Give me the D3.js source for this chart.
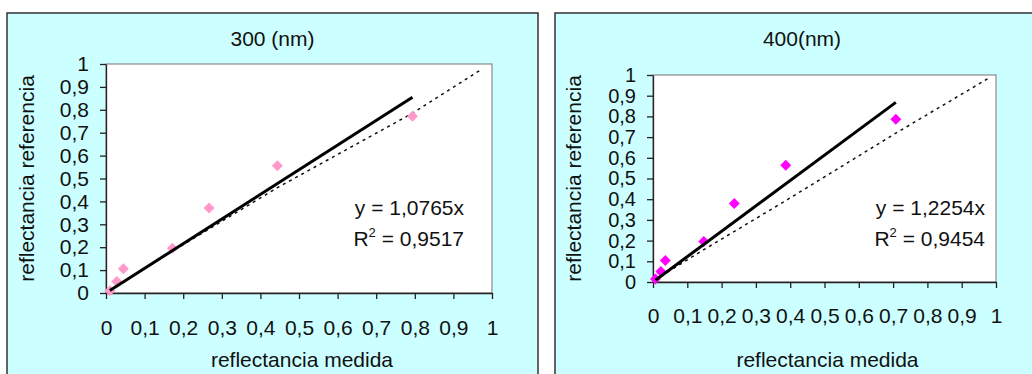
<!DOCTYPE html>
<html lang="es">
<head>
    <meta charset="UTF-8">
    <script src="https://d3js.org/d3.v7.min.js"></script>
    <style>
        body {margin: 0; background-color: #ffffff;}
        svg {display: block; font-family: "Liberation Sans", Arial, sans-serif;}
    </style>
</head>
<body>
<svg class="chart" width="1032" height="374"></svg>
<script type="text/javascript">
    // tick values shared by both charts (decimal comma labels)
    let tick_values = [0, 0.1, 0.2, 0.3, 0.4, 0.5, 0.6, 0.7, 0.8, 0.9, 1];
    let tick_labels = ['0', '0,1', '0,2', '0,3', '0,4', '0,5', '0,6', '0,7', '0,8', '0,9', '1'];

    // 300 nm
    let medida_300 = [0.010, 0.028, 0.045, 0.172, 0.267, 0.444, 0.794];
    let referencia_300 = [0.010, 0.050, 0.106, 0.195, 0.371, 0.556, 0.772];
    let slope_300 = 1.0765;
    let eq_300 = 'y = 1,0765x';
    let r2_300 = '0,9517';
    let ref_x_300 = [0.010, 0.150, 0.444, 0.794, 0.973];
    let ref_y_300 = [0.010, 0.160, 0.460, 0.785, 0.977];

    // 400 nm
    let medida_400 = [0.007, 0.023, 0.036, 0.148, 0.237, 0.387, 0.708];
    let referencia_400 = [0.014, 0.051, 0.104, 0.196, 0.379, 0.564, 0.786];
    let slope_400 = 1.2254;
    let eq_400 = 'y = 1,2254x';
    let r2_400 = '0,9454';
    let ref_x_400 = [0.007, 0.148, 0.383, 0.708, 0.983];
    let ref_y_400 = [0.012, 0.156, 0.389, 0.719, 0.989];

    let svg = d3.select('.chart');

    function drawChart(opts) {
        let g = svg.append('g');

        // outer chart frame
        g.append('rect')
            .attr('x', opts.panel[0]).attr('y', opts.panel[1])
            .attr('width', opts.panel[2]).attr('height', opts.panel[3])
            .attr('fill', '#ccffff')
            .attr('stroke', '#333333')
            .attr('stroke-width', 1.5);

        let x = d3.scaleLinear().domain([0, 1]).range([opts.left, opts.right]);
        let y = d3.scaleLinear().domain([0, 1]).range([opts.bottom, opts.top]);

        g.append('rect')
            .attr('x', opts.left).attr('y', opts.top)
            .attr('width', opts.right - opts.left).attr('height', opts.bottom - opts.top)
            .attr('fill', '#ffffff')
            .attr('stroke', '#8a8a8a')
            .attr('stroke-width', 1.2);

        let fmt = function (d) { return tick_labels[tick_values.indexOf(d)]; };

        let xAxis = g.append('g')
            .attr('transform', 'translate(0,' + opts.bottom + ')')
            .call(d3.axisBottom(x).tickValues(tick_values).tickFormat(fmt)
                .tickSize(6).tickSizeOuter(0).tickPadding(opts.xPad));
        let yAxis = g.append('g')
            .attr('transform', 'translate(' + opts.left + ',0)')
            .call(d3.axisLeft(y).tickValues(tick_values).tickFormat(fmt)
                .tickSize(6).tickSizeOuter(0).tickPadding(11));

        [[xAxis, 21], [yAxis, opts.yFont]].forEach(([a, fs]) => {
            a.select('.domain').attr('stroke', '#222').attr('stroke-width', 1.3);
            a.selectAll('.tick line').attr('stroke', '#222').attr('stroke-width', 1.3);
            a.selectAll('.tick text')
                .attr('fill', '#111')
                .style('font-size', fs + 'px')
                .style('font-family', '"Liberation Sans", Arial, sans-serif');
        });

        // reference line (dotted)
        let line = d3.line().x(d => x(d[0])).y(d => y(d[1]));
        g.append('path')
            .datum(d3.zip(opts.refX, opts.refY))
            .attr('d', line)
            .attr('fill', 'none')
            .attr('stroke', '#111')
            .attr('stroke-width', 1.5)
            .attr('stroke-dasharray', '3,4');

        // points
        let diamond = d3.symbol(d3.symbolSquare, 60);
        g.selectAll('path.pt').data(d3.zip(opts.mx, opts.my)).enter().append('path')
            .attr('class', 'pt')
            .attr('d', diamond)
            .attr('transform', d => 'translate(' + x(d[0]) + ',' + y(d[1]) + ') rotate(45)')
            .attr('fill', opts.color);

        // linear trendline through origin
        let x_lo = d3.min(opts.mx), x_hi = d3.max(opts.mx);
        g.append('line')
            .attr('x1', x(x_lo)).attr('y1', y(opts.slope * x_lo))
            .attr('x2', x(x_hi)).attr('y2', y(opts.slope * x_hi))
            .attr('stroke', '#000')
            .attr('stroke-width', 3);

        // title
        g.append('text')
            .attr('x', opts.panel[0] + opts.panel[2] / 2)
            .attr('y', 46)
            .attr('text-anchor', 'middle')
            .style('font-size', '21px')
            .attr('fill', '#111')
            .text(opts.title);

        // axis titles
        g.append('text')
            .attr('x', (opts.left + opts.right) / 2 + 3)
            .attr('y', 367)
            .attr('text-anchor', 'middle')
            .style('font-size', '21px')
            .attr('fill', '#111')
            .text('reflectancia medida');
        g.append('text')
            .attr('transform', 'translate(' + opts.yTitleX + ',' + (opts.top + opts.bottom) / 2 + ') rotate(-90)')
            .attr('text-anchor', 'middle')
            .style('font-size', '21px')
            .attr('fill', '#111')
            .text('reflectancia referencia');

        // equation
        g.append('text')
            .attr('x', opts.eqX).attr('y', 215)
            .attr('text-anchor', 'end')
            .style('font-size', '21px')
            .attr('fill', '#111')
            .text(opts.eq);
        let r2 = g.append('text')
            .attr('x', opts.eqX).attr('y', 246)
            .attr('text-anchor', 'end')
            .style('font-size', '21px')
            .attr('fill', '#111');
        r2.append('tspan').text('R');
        r2.append('tspan').attr('dy', -9).style('font-size', '13px').text('2');
        r2.append('tspan').attr('dy', 9).text(' = ' + opts.r2);
    }

    drawChart({
        panel: [7, 13, 531, 400],
        left: 106, right: 492, top: 64, bottom: 293,
        xPad: 21, yTitleX: 34, eqX: 464, yFont: 21,
        title: '300 (nm)', color: '#ff99cc',
        mx: medida_300, my: referencia_300, slope: slope_300,
        refX: ref_x_300, refY: ref_y_300, eq: eq_300, r2: r2_300
    });

    drawChart({
        panel: [555, 13, 494, 400],
        left: 653, right: 996, top: 75, bottom: 282,
        xPad: 20, yTitleX: 581, eqX: 985, yFont: 20,
        title: '400(nm)', color: '#ff00ff',
        mx: medida_400, my: referencia_400, slope: slope_400,
        refX: ref_x_400, refY: ref_y_400, eq: eq_400, r2: r2_400
    });
</script>
</body>
</html>
